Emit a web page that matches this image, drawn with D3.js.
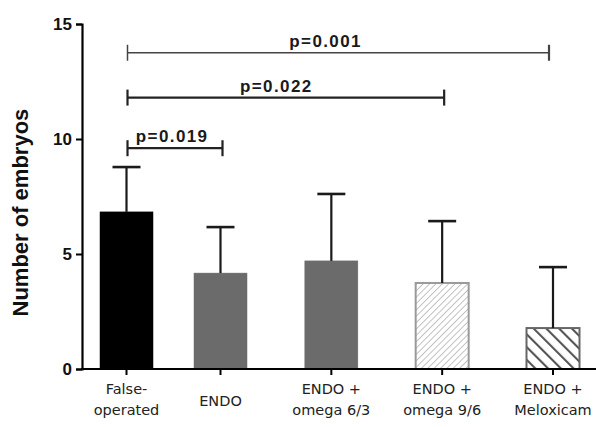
<!DOCTYPE html>
<html>
<head>
<meta charset="utf-8">
<script src="https://cdn.jsdelivr.net/npm/d3@7"></script>
<style>
  body { margin: 0; background: #fff; }
  svg { display: block; }
</style>
</head>
<body>
<div id="data-vis"></div>
<script>
//Chart data
const groups = ["False-operated", "ENDO", "ENDO + omega 6/3", "ENDO + omega 9/6", "ENDO + Meloxicam"];
const labelLines = [["False-", "operated"], ["ENDO"], ["ENDO +", "omega 6/3"], ["ENDO +", "omega 9/6"], ["ENDO +", "Meloxicam"]];
const means = [6.83, 4.17, 4.70, 3.74, 1.78];
const sds = [1.95, 2.0, 2.91, 2.69, 2.65];
const yTicks = [0, 5, 10, 15];

//Significance brackets: from group, to group, level, label
const brackets = [
    { from: 0, to: 1, level: 9.6, label: "p=0.019" },
    { from: 0, to: 3, level: 11.8, label: "p=0.022" },
    { from: 0, to: 4, level: 13.75, label: "p=0.001" }
];

const fills = ["#000", "#6b6b6b", "#6b6b6b", "url(#hatchLight)", "url(#hatchDark)"];
const strokes = ["#000", "#6b6b6b", "#6b6b6b", "#9a9a9a", "#666"];

const w = 596, h = 427;

const svg = d3.select("#data-vis").append("svg")
    .attr("width", w)
    .attr("height", h);

//Hatch patterns
const defs = svg.append("defs");
defs.append("pattern")
    .attr("id", "hatchLight")
    .attr("patternUnits", "userSpaceOnUse")
    .attr("width", 4.5).attr("height", 4.5)
    .attr("patternTransform", "rotate(45)")
    .append("line")
    .attr("x1", 0).attr("y1", 0).attr("x2", 0).attr("y2", 4.5)
    .attr("stroke", "#aaa").attr("stroke-width", 1.4);

const pd = defs.append("pattern")
    .attr("id", "hatchDark")
    .attr("patternUnits", "userSpaceOnUse")
    .attr("width", 9).attr("height", 9)
    .attr("patternTransform", "rotate(-45)");
pd.append("rect").attr("width", 9).attr("height", 9).attr("fill", "#fff");
pd.append("line")
    .attr("x1", 0).attr("y1", 0).attr("x2", 0).attr("y2", 9)
    .attr("stroke", "#555").attr("stroke-width", 4.2);

//Scales (groups are not evenly spaced in the original figure)
const x = d3.scaleLinear()
    .domain([0, 1, 4])
    .range([126.5, 220.5, 553]);

const y = d3.scaleLinear()
    .domain([0, 15])
    .range([369, 24]);

const barW = 55;
const capW = 28;

//Bars
svg.append("g")
    .selectAll("rect")
    .data(means)
    .join("rect")
    .attr("x", (d, i) => x(i) - barW / 2 + 1)
    .attr("y", d => y(d))
    .attr("width", barW - 2)
    .attr("height", d => y(0) - y(d))
    .attr("fill", (d, i) => fills[i])
    .attr("stroke", (d, i) => strokes[i])
    .attr("stroke-width", (d, i) => i > 2 ? 2 : 0.5);

//Error bars
const err = svg.append("g")
    .attr("stroke", "#1a1a1a")
    .attr("stroke-width", 2.2);

err.selectAll("line.v")
    .data(means)
    .join("line")
    .attr("class", "v")
    .attr("x1", (d, i) => x(i)).attr("x2", (d, i) => x(i))
    .attr("y1", d => y(d))
    .attr("y2", (d, i) => y(d + sds[i]));

err.selectAll("line.cap")
    .data(means)
    .join("line")
    .attr("class", "cap")
    .attr("stroke-width", 2.6)
    .attr("x1", (d, i) => x(i) - capW / 2).attr("x2", (d, i) => x(i) + capW / 2)
    .attr("y1", (d, i) => y(d + sds[i]))
    .attr("y2", (d, i) => y(d + sds[i]));

//Y axis
const yAxis = svg.append("g")
    .attr("transform", "translate(82,0)")
    .call(d3.axisLeft(y).tickValues(yTicks).tickSize(6).tickPadding(4));
yAxis.select(".domain").attr("stroke", "#000").attr("stroke-width", 2.2);
yAxis.selectAll(".tick line").attr("stroke", "#000").attr("stroke-width", 2);
yAxis.selectAll(".tick text")
    .attr("fill", "#111")
    .style("font-family", "Liberation Sans, Arial, sans-serif")
    .style("font-weight", "bold")
    .style("font-size", "17px");

//X axis line
svg.append("line")
    .attr("x1", 81).attr("x2", w)
    .attr("y1", y(0)).attr("y2", y(0))
    .attr("stroke", "#000").attr("stroke-width", 2.2);

svg.append("g")
    .selectAll("line")
    .data(groups)
    .join("line")
    .attr("x1", (d, i) => x(i)).attr("x2", (d, i) => x(i))
    .attr("y1", y(0)).attr("y2", y(0) + 6)
    .attr("stroke", "#000").attr("stroke-width", 2);

//X labels
const xl = svg.append("g")
    .style("font-family", "DejaVu Sans, Verdana, sans-serif")
    .style("font-size", "14.5px")
    .attr("fill", "#222")
    .attr("text-anchor", "middle");

xl.selectAll("text")
    .data(groups)
    .join("text")
    .attr("x", (d, i) => x(i))
    .attr("y", 394)
    .each(function(d, i) {
        const t = d3.select(this);
        const lines = labelLines[i];
        lines.forEach((ln, j) => {
            t.append("tspan")
                .attr("x", x(i))
                .attr("dy", j === 0 ? (lines.length === 1 ? 12 : 0) : 21)
                .text(ln);
        });
    });

//Y axis title
svg.append("text")
    .attr("transform", `translate(28,${y(6.8)}) rotate(-90)`)
    .attr("text-anchor", "middle")
    .attr("fill", "#111")
    .style("font-family", "Liberation Sans, Arial, sans-serif")
    .style("font-weight", "bold")
    .style("font-size", "22px")
    .text("Number of embryos");

//Significance brackets
const bg = svg.append("g");
brackets.forEach((b, k) => {
    const g = bg.append("g")
        .attr("stroke", k === 2 ? "#444" : "#222")
        .attr("stroke-width", k === 2 ? 1.5 : 2.2);
    const yy = y(b.level);
    const x1 = x(b.from) + 1, x2 = x(b.to) + (k === 2 ? -4 : 2);
    g.append("line").attr("x1", x1).attr("x2", x2).attr("y1", yy).attr("y2", yy);
    g.append("line").attr("x1", x1).attr("x2", x1).attr("y1", yy - 8).attr("y2", yy + 8);
    g.append("line").attr("x1", x2).attr("x2", x2).attr("y1", yy - 8).attr("y2", yy + 8)
        .attr("stroke-width", 2.2);

    bg.append("text")
        .attr("x", x1 + 0.47 * (x2 - x1))
        .attr("y", yy - 6)
        .attr("text-anchor", "middle")
        .attr("fill", "#1a1a1a")
        .style("font-family", "Liberation Sans, Arial, sans-serif")
        .style("font-weight", "bold")
        .style("font-size", "17px")
        .style("letter-spacing", "1.4px")
        .text(b.label);
});
</script>
</body>
</html>
